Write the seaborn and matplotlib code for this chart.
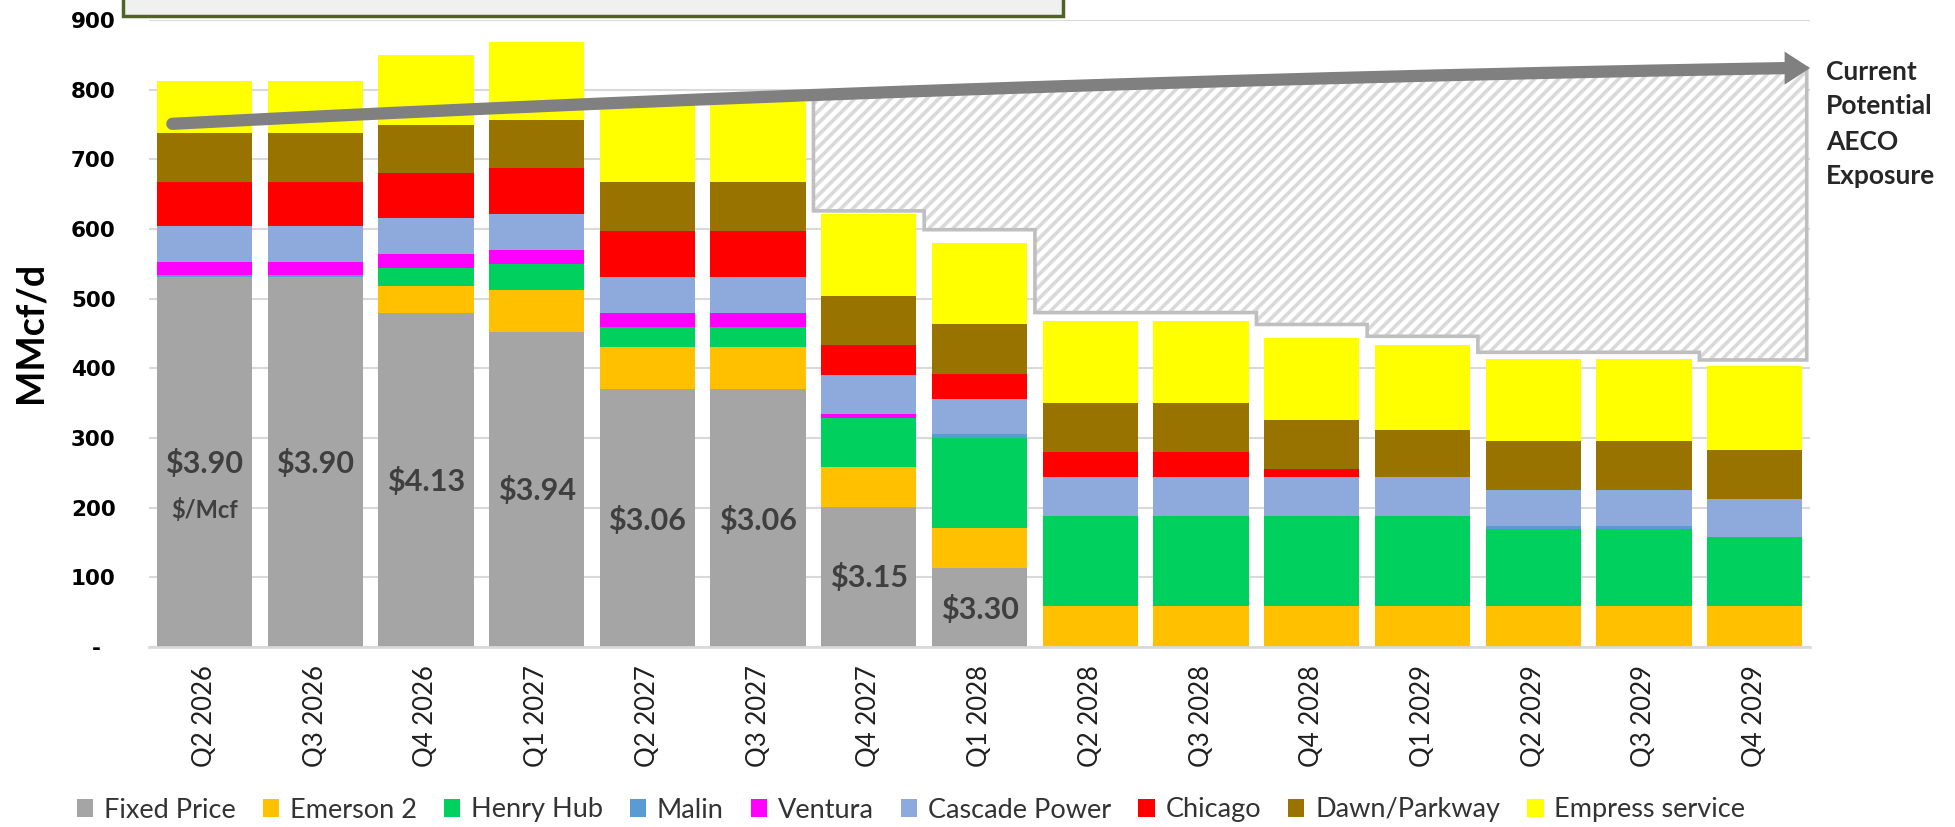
import matplotlib
matplotlib.use("Agg")
import matplotlib.pyplot as plt
import numpy as np
import pandas as pd
import seaborn as sns
from matplotlib.collections import LineCollection
from matplotlib.patches import Patch, Polygon, Rectangle

# Données (MMcf/d)
quarters = ["Q2 2026", "Q3 2026", "Q4 2026", "Q1 2027", "Q2 2027", "Q3 2027", "Q4 2027", "Q1 2028",
            "Q2 2028", "Q3 2028", "Q4 2028", "Q1 2029", "Q2 2029", "Q3 2029", "Q4 2029"]
fixed_price = [531, 531, 479, 452, 370, 370, 201, 114, 0, 0, 0, 0, 0, 0, 0]
emerson_2 = [0, 0, 39, 60, 60, 60, 58, 57, 59, 59, 59, 59, 59, 59, 59]
henry_hub = [0, 0, 26, 38, 29, 29, 69, 129, 129, 129, 129, 129, 110, 110, 99]
malin = [3, 3, 0, 0, 0, 0, 0, 5, 0, 0, 0, 0, 5, 5, 0]
ventura = [19, 19, 20, 20, 21, 21, 7, 0, 0, 0, 0, 0, 0, 0, 0]
cascade_power = [51, 51, 52, 51, 51, 51, 55, 51, 56, 56, 56, 56, 52, 52, 54]
chicago = [64, 64, 65, 66, 66, 66, 44, 36, 36, 36, 12, 0, 0, 0, 0]
dawn_parkway = [70, 70, 68, 70, 71, 71, 70, 71, 70, 70, 70, 68, 70, 70, 71]
empress = [74, 74, 101, 112, 115, 115, 117, 117, 118, 118, 117, 121, 117, 117, 120]

series_names = ["Fixed Price", "Emerson 2", "Henry Hub", "Malin", "Ventura", "Cascade Power",
                "Chicago", "Dawn/Parkway", "Empress service"]
series_colors = ["#A5A5A5", "#FFC000", "#00D05E", "#5B9BD5", "#FF00FF", "#8EA9DB",
                 "#FF0000", "#997300", "#FFFF00"]

# Prix fixes affichés dans les barres grises
price_labels = ["$3.90", "$3.90", "$4.13", "$3.94", "$3.06", "$3.06", "$3.15", "$3.30"]
price_label_y = [263, 263, 237, 224, 182, 182, 99, 54]

# Plancher de la zone hachurée (exposition AECO), de Q4 2027 à Q4 2029
exposure_floor = [626, 599, 480, 480, 463, 446, 423, 423, 412]

df = pd.DataFrame(
    dict(zip(series_names, [fixed_price, emerson_2, henry_hub, malin, ventura, cascade_power,
                            chicago, dawn_parkway, empress])),
    index=quarters,
)
cumul = df.cumsum(axis=1)

sns.set_theme(style="white")
plt.rcParams["font.family"] = ["Lato", "DejaVu Sans"]

fig = plt.figure(figsize=(19.56, 8.27), dpi=100)
ax = fig.add_axes([0.0762, 0.2177, 0.8492, 0.7581])

# Barres empilées : on dessine les cumuls du plus grand au plus petit
for name, color in reversed(list(zip(series_names, series_colors))):
    sns.barplot(x=quarters, y=cumul[name].values, color=color, saturation=1, width=0.86,
                errorbar=None, linewidth=0, ax=ax, zorder=2)

ax.set_xlim(-0.5, 14.5)
ax.set_ylim(0, 900)
ax.set_xlabel("")
ax.set_ylabel("")

# Axes et grille
ax.yaxis.grid(True, color="#D9D9D9", lw=1.5)
ax.set_axisbelow(True)
for side in ["left", "right", "top"]:
    ax.spines[side].set_visible(False)
ax.spines["bottom"].set_color("#D9D9D9")
ax.spines["bottom"].set_linewidth(2)
ax.tick_params(axis="both", length=0)
ax.set_yticks(range(0, 901, 100))
ax.set_yticklabels(["-  "] + [str(v) for v in range(100, 901, 100)], fontsize=15.5,
                   fontweight="bold", color="black", family=["DejaVu Sans"])
ax.tick_params(axis="y", pad=24)
ax.set_xticks(range(len(quarters)))
ax.set_xticklabels(quarters, rotation=90, fontsize=18.5, color="#1F1F1F")
ax.tick_params(axis="x", pad=13)

fig.text(31 / 1956, 1 - 332 / 827, "MMcf/d", rotation=90, ha="center", va="center",
         fontsize=27, fontweight="bold", color="black")

# Étiquettes de prix
for i, (lab, y) in enumerate(zip(price_labels, price_label_y)):
    ax.text(i, y, lab, ha="center", va="center", fontsize=22, fontweight="bold",
            color="#3F3F3F", zorder=4)
ax.text(0, 196, "$/Mcf", ha="center", va="center", fontsize=17, fontweight="bold",
        color="#3F3F3F", zorder=4)

# Flèche courbe (courbe de Bézier quadratique)
p0 = np.array([-0.29, 751.0])
p1 = np.array([7.0, 811.0])
p2 = np.array([14.29, 831.0])


def courbe(x):
    t = np.clip((np.asarray(x) - p0[0]) / (p2[0] - p0[0]), 0, 1)
    return (1 - t) ** 2 * p0[1] + 2 * t * (1 - t) * p1[1] + t ** 2 * p2[1]


# Zone hachurée d'exposition AECO
start = len(quarters) - len(exposure_floor)
bas = []
for k, level in enumerate(exposure_floor):
    x_left = start + k - 0.5
    x_right = start + k + 0.5 if k < len(exposure_floor) - 1 else 14.47
    bas += [(x_left, level), (x_right, level)]
x_top = np.linspace(14.47, start - 0.5, 60)
haut = list(zip(x_top, courbe(x_top)))
zone = Polygon(bas + haut, closed=True, facecolor="white", edgecolor="none", zorder=3)
ax.add_patch(zone)

# hachures à 45° en pixels
bbox = ax.get_position()
sx = bbox.width * fig.get_figwidth() * fig.dpi / 15
sy = bbox.height * fig.get_figheight() * fig.dpi / 900
pente = sx / sy
pas = 12 / sx
segments = []
for x0 in np.arange(start - 0.5 - 600 / pente, 14.6, pas):
    segments.append([(x0, 300), (x0 + 600 / pente, 900)])
hachures = LineCollection(segments, colors="#D9D9D9", linewidths=2.6, zorder=3)
hachures.set_clip_path(zone)
ax.add_collection(hachures)
ax.add_patch(Polygon(bas + haut, closed=True, facecolor="none", edgecolor="#BFBFBF", lw=2.6,
                     zorder=3.5, joinstyle="miter"))

xs = np.linspace(p0[0], p2[0], 200)
ax.plot(xs, courbe(xs), color="#808080", lw=8.8, solid_capstyle="round", zorder=5,
        clip_on=False)
tete = 16.5 / sy
ax.add_patch(Polygon([(p2[0] - 0.02, p2[1] + tete), (14.5, p2[1]), (p2[0] - 0.02, p2[1] - tete)],
                     closed=True, facecolor="#808080", edgecolor="none", zorder=5, clip_on=False))

fig.text(1826 / 1956, 1 - 124 / 827, "Current\nPotential\nAECO\nExposure", ha="left",
         va="center", fontsize=19, fontweight="bold", color="#262626", linespacing=1.55)

# Encadré du titre (coupé en haut)
fig.patches.append(Rectangle((123 / 1956, 1 - 16 / 827), (1063 - 123) / 1956, 0.1,
                             transform=fig.transFigure, facecolor="#F0F0F0",
                             edgecolor="#4F6228", lw=2.5, zorder=1))

# Légende
handles = [Patch(facecolor=c, edgecolor="none", label=n) for n, c in zip(series_names, series_colors)]
fig.legend(handles=handles, loc="center", bbox_to_anchor=(911 / 1956, 1 - 810 / 827), ncol=9,
           frameon=False, fontsize=19.5, handlelength=0.6, handleheight=0.6,
           handletextpad=0.4, columnspacing=1.0, labelcolor="#333333")

fig.savefig("out.png", dpi=100)
